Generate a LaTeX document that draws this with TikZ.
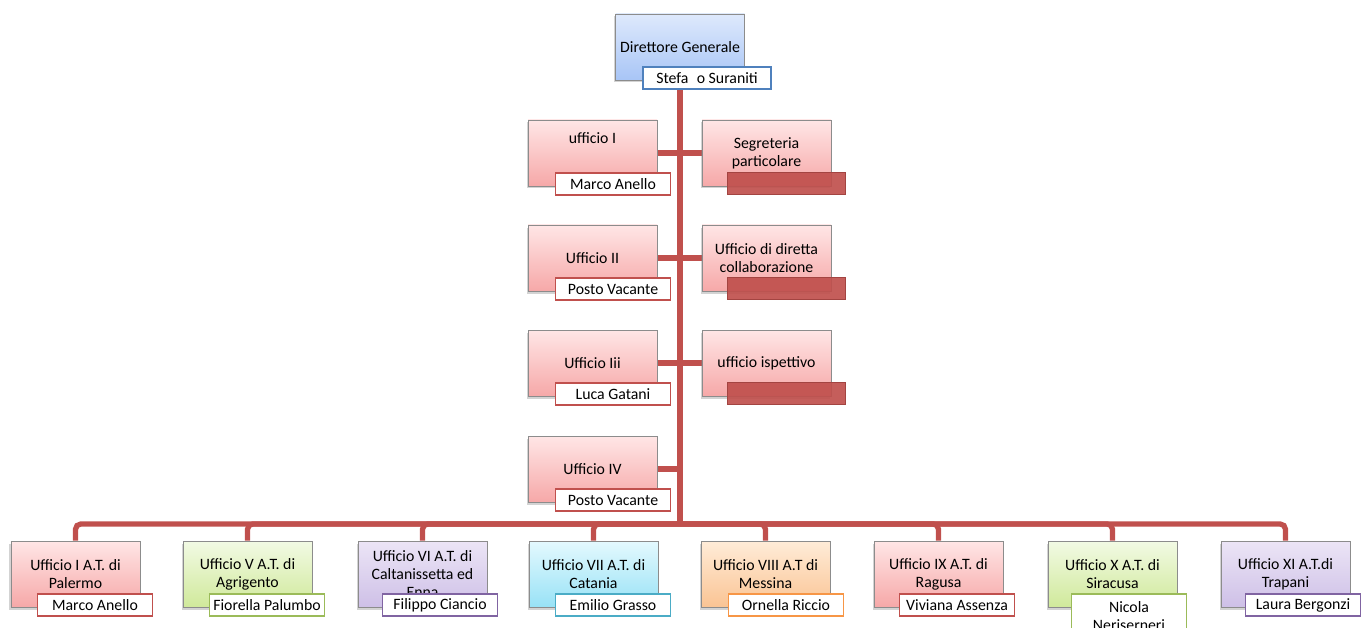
\documentclass[tikz,border=0pt]{standalone}
\usepackage{fontspec}
\setmainfont{Carlito}
\usepackage{xcolor}
\usepackage{tikz}
\usetikzlibrary{shadows,backgrounds}
\definecolor{clred}{RGB}{192,80,77}
\definecolor{clgreen}{RGB}{155,187,89}
\definecolor{clpurple}{RGB}{128,100,162}
\definecolor{claqua}{RGB}{75,172,198}
\definecolor{clorange}{RGB}{247,150,70}
\definecolor{clblue}{RGB}{79,129,189}
\definecolor{clgray}{RGB}{140,140,140}
\definecolor{redtop}{RGB}{255,230,230}
\definecolor{redbot}{RGB}{246,168,168}
\definecolor{greentop}{RGB}{242,250,228}
\definecolor{greenbot}{RGB}{208,233,155}
\definecolor{purpletop}{RGB}{236,229,246}
\definecolor{purplebot}{RGB}{206,192,231}
\definecolor{aquatop}{RGB}{228,249,254}
\definecolor{aquabot}{RGB}{152,226,246}
\definecolor{orangetop}{RGB}{255,236,216}
\definecolor{orangebot}{RGB}{250,196,148}
\definecolor{bluetop}{RGB}{222,233,252}
\definecolor{bluebot}{RGB}{168,197,246}
\tikzset{
  ufbox/.style={draw=clgray, minimum width=2.58cm, minimum height=1.32cm,
    align=center, inner sep=2pt,
    font=\fontsize{9}{10.3}\selectfont,
    drop shadow={shadow xshift=-0.03cm, shadow yshift=-0.05cm, opacity=0.35}},
  ufred/.style={ufbox, top color=redtop, bottom color=redbot},
  ufgreen/.style={ufbox, top color=greentop, bottom color=greenbot},
  ufpurple/.style={ufbox, top color=purpletop, bottom color=purplebot},
  ufaqua/.style={ufbox, top color=aquatop, bottom color=aquabot},
  uforange/.style={ufbox, top color=orangetop, bottom color=orangebot},
  ufblue/.style={ufbox, top color=bluetop, bottom color=bluebot},
  ufname/.style={draw=#1, fill=white, line width=1pt, minimum width=2.3cm,
    minimum height=0.44cm, inner sep=1pt, anchor=north west, align=center,
    font=\fontsize{9}{10.3}\selectfont},
  ufcover/.style={draw=clred!85!black, fill=clred, fill opacity=0.92,
    minimum width=2.36cm, minimum height=0.44cm, anchor=north west},
  ufline/.style={draw=clred, line width=3pt}
}

\begin{document}
\begin{tikzpicture}
  \clip (0cm,0cm) rectangle (27.38cm,-12.56cm);
  % direzione
  \node[ufblue] (dg) at (13.60cm,-0.94cm) {Direttore Generale};
  \node[ufname=clblue, minimum width=2.56cm] (dgN) at ([shift={(0.54cm,0.28cm)}]dg.south west) {Stefa\phantom{n}o Suraniti};
  % uffici centrali
  \node[ufred] (u1) at (11.85cm,-3.06cm) {\raisebox{0.6cm}{ufficio I}};
  \node[ufname=clred] (u1N) at ([shift={(0.54cm,0.28cm)}]u1.south west) {Marco Anello};
  \node[ufred] (seg) at (15.33cm,-3.06cm) {Segreteria\\particolare};
  \node[ufcover] (segN) at ([shift={(0.50cm,0.28cm)}]seg.south west) {};
  \node[ufred] (u2) at (11.85cm,-5.16cm) {Ufficio II};
  \node[ufname=clred] (u2N) at ([shift={(0.54cm,0.28cm)}]u2.south west) {Posto Vacante};
  \node[ufred] (dc) at (15.33cm,-5.16cm) {Ufficio di diretta\\collaborazione};
  \node[ufcover] (dcN) at ([shift={(0.50cm,0.28cm)}]dc.south west) {};
  \node[ufred] (u3) at (11.85cm,-7.26cm) {Ufficio Iii};
  \node[ufname=clred] (u3N) at ([shift={(0.54cm,0.28cm)}]u3.south west) {Luca Gatani};
  \node[ufred] (isp) at (15.33cm,-7.26cm) {ufficio ispettivo};
  \node[ufcover] (ispN) at ([shift={(0.50cm,0.28cm)}]isp.south west) {};
  \node[ufred] (u4) at (11.85cm,-9.38cm) {Ufficio IV};
  \node[ufname=clred] (u4N) at ([shift={(0.54cm,0.28cm)}]u4.south west) {Posto Vacante};
  % ambiti territoriali
  \node[ufred] (b1) at (1.51cm,-11.48cm) {Ufficio I A.T. di\\Palermo};
  \node[ufname=clred] (b1N) at ([shift={(0.52cm,0.28cm)}]b1.south west) {Marco Anello};
  \node[ufgreen] (b2) at (4.95cm,-11.48cm) {Ufficio V A.T. di\\Agrigento};
  \node[ufname=clgreen] (b2N) at ([shift={(0.52cm,0.28cm)}]b2.south west) {Fiorella Palumbo};
  \node[ufpurple] (b3) at (8.45cm,-11.48cm) {Ufficio VI A.T. di\\Caltanissetta ed\\Enna};
  \node[ufname=clpurple] (b3N) at ([shift={(0.48cm,0.28cm)}]b3.south west) {Filippo Ciancio};
  \node[ufaqua] (b4) at (11.87cm,-11.48cm) {Ufficio VII A.T. di\\Catania};
  \node[ufname=claqua] (b4N) at ([shift={(0.52cm,0.28cm)}]b4.south west) {Emilio Grasso};
  \node[uforange] (b5) at (15.31cm,-11.48cm) {Ufficio VIII A.T di\\Messina};
  \node[ufname=clorange] (b5N) at ([shift={(0.54cm,0.28cm)}]b5.south west) {Ornella Riccio};
  \node[ufred] (b6) at (18.77cm,-11.48cm) {Ufficio IX A.T. di\\Ragusa};
  \node[ufname=clred] (b6N) at ([shift={(0.50cm,0.28cm)}]b6.south west) {Viviana Assenza};
  \node[ufgreen] (b7) at (22.25cm,-11.48cm) {Ufficio X A.T. di\\Siracusa};
  \node[ufname=clgreen, minimum height=0.86cm, anchor=north west] (b7N) at ([shift={(0.46cm,0.28cm)}]b7.south west) {Nicola\\Neriserneri};
  \node[ufpurple] (b8) at (25.71cm,-11.48cm) {Ufficio XI A.T.di\\Trapani};
  \node[ufname=clpurple] (b8N) at ([shift={(0.48cm,0.28cm)}]b8.south west) {Laura Bergonzi};
  % collegamenti
  \begin{scope}[on background layer]
    \coordinate (bus) at (13.60cm,-10.48cm);
    \draw[ufline] (dg.south) -- (bus);
    \draw[ufline] (u1) -- (seg);
    \draw[ufline] (u2) -- (dc);
    \draw[ufline] (u3) -- (isp);
    \draw[ufline] (u4) -- (u4 -| bus);
    \draw[ufline, rounded corners=3pt] (bus) -| (b1.north);
    \draw[ufline, rounded corners=3pt] (bus) -| (b2.north);
    \draw[ufline, rounded corners=3pt] (bus) -| (b3.north);
    \draw[ufline, rounded corners=3pt] (bus) -| (b4.north);
    \draw[ufline, rounded corners=3pt] (bus) -| (b5.north);
    \draw[ufline, rounded corners=3pt] (bus) -| (b6.north);
    \draw[ufline, rounded corners=3pt] (bus) -| (b7.north);
    \draw[ufline, rounded corners=3pt] (bus) -| (b8.north);
  \end{scope}
\end{tikzpicture}
\end{document}
